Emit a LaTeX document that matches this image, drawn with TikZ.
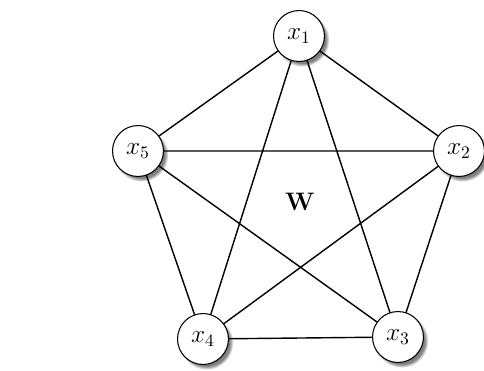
\documentclass[tikz,border=0pt]{standalone}
\usepackage{amsmath,amssymb}
\usepackage{tikz}
\usetikzlibrary{shadows}
\tikzset{
  graph edge/.style={line width=.8pt},
  vertex/.style={circle,draw,line width=.6pt,fill=white,minimum size=29pt,inner sep=0pt,font=\Large,
    circular drop shadow={shadow xshift=1.8pt,shadow yshift=-2pt,shadow scale=1.06}},
  graph label/.style={font=\Large,inner sep=1pt}
}

\begin{document}
\begin{tikzpicture}[x=0.02cm,y=-0.02cm,line cap=round,line join=round]
  \useasboundingbox (0,0) rectangle (484,370);
  \node[vertex] (x1) at (299,36)  {$x_1$};
  \node[vertex] (x2) at (459,151) {$x_2$};
  \node[vertex] (x3) at (398,337) {$x_3$};
  \node[vertex] (x4) at (203,339) {$x_4$};
  \node[vertex] (x5) at (138,151) {$x_5$};

  \draw[graph edge] (x1)--(x2) (x1)--(x3) (x1)--(x4) (x1)--(x5)
        (x2)--(x3) (x2)--(x4) (x2)--(x5)
        (x3)--(x4) (x3)--(x5)
        (x4)--(x5);

  \node[graph label] (w) at (300,202) {$\mathbf{W}$};
\end{tikzpicture}
\end{document}
